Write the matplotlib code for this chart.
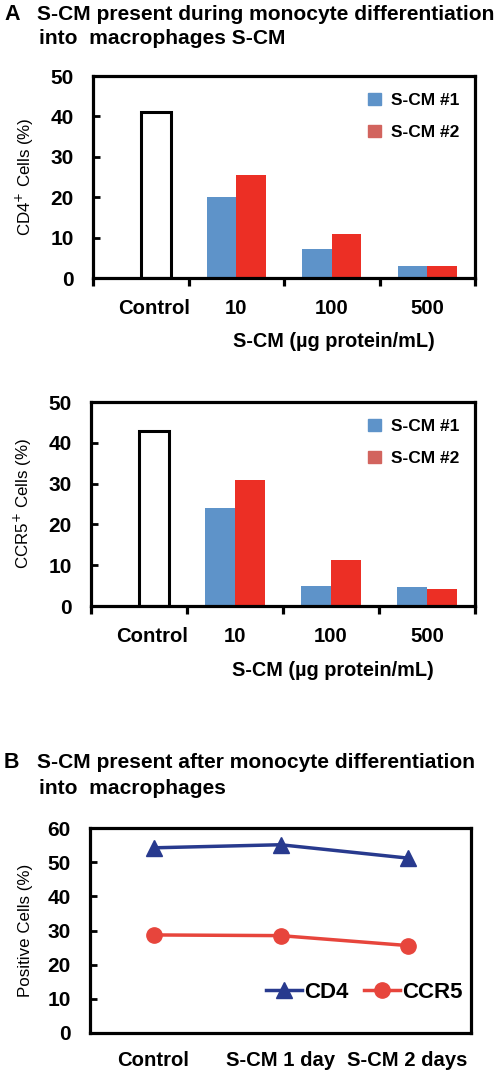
import matplotlib.pyplot as plt
from matplotlib.patches import Patch

plt.rcParams['font.family'] = ['Liberation Sans', 'DejaVu Sans']

# ---- data ----
doses = ['Control', '10', '100', '500']
cd4_control = 41
cd4_scm1 = [20, 7.3, 3.0]
cd4_scm2 = [25.5, 11, 3.0]

ccr5_control = 43
ccr5_scm1 = [24, 5, 4.7]
ccr5_scm2 = [31, 11.3, 4.2]

times = ['Control', 'S-CM 1 day', 'S-CM 2 days']
cd4_after = [54.2, 55.1, 51.2]
ccr5_after = [28.7, 28.5, 25.6]

BLUE = '#5E93C9'
RED = '#EC2F25'
RED_LEG = '#D2645E'
NAVY = '#283A8E'
RED_LINE = '#E7453C'

W, H = 498, 1071
fig = plt.figure(figsize=(W / 100, H / 100), dpi=100)


def px_axes(l, t, r, b):
    return fig.add_axes([l / W, 1 - b / H, (r - l) / W, (b - t) / H])


def style_axes(ax):
    for s in ax.spines.values():
        s.set_linewidth(2.3)
    ax.tick_params(axis='y', direction='in', length=5, width=2, labelsize=15, pad=14)
    for lab in ax.get_yticklabels():
        lab.set_fontweight('bold')


def bar_panel(ax, control, s1, s2, ylabel):
    w = 0.31
    ax.bar(0.16, control, w, color='white', edgecolor='black', linewidth=2.2)
    xs = range(1, len(doses))
    ax.bar([x - 0.155 for x in xs], s1, w, color=BLUE)
    ax.bar([x + 0.155 for x in xs], s2, w, color=RED)
    ax.set_xlim(-0.5, 3.5)
    ax.set_ylim(0, 50)
    ax.set_yticks(range(0, 51, 10))
    ax.set_xticks([-0.5, 0.5, 1.5, 2.5, 3.5])
    ax.set_xticklabels([])
    ax.set_xticks([0.14, 1, 2, 3], minor=True)
    ax.set_xticklabels(doses, minor=True, fontsize=14.6, fontweight='bold')
    ax.tick_params(axis='x', which='major', direction='out', length=6, width=2.3)
    ax.tick_params(axis='x', which='minor', length=0, pad=15)
    style_axes(ax)
    ax.set_ylabel(ylabel, fontsize=12.2, labelpad=10)
    handles = [Patch(color=BLUE, label='S-CM #1'), Patch(color=RED_LEG, label='S-CM #2')]
    ax.legend(handles=handles, loc='upper right', frameon=False,
              prop={'weight': 'bold', 'size': 12.5}, handlelength=0.7, handleheight=0.7,
              labelspacing=1.0, handletextpad=0.6, bbox_to_anchor=(1.0, 0.995))
    ax.text(0.63, -0.315, 'S-CM (µg protein/mL)', transform=ax.transAxes,
            ha='center', va='center', fontsize=14.3, fontweight='bold')


# ---- panel A titles ----
fig.text(4 / W, 1 - 15 / H, 'A', fontsize=15.5, fontweight='bold', va='center')
fig.text(37 / W, 1 - 15 / H, 'S-CM present during monocyte differentiation',
         fontsize=15.1, fontweight='bold', va='center')
fig.text(39 / W, 1 - 39 / H, 'into  macrophages S-CM',
         fontsize=15.1, fontweight='bold', va='center')

ax1 = px_axes(93, 76, 475, 278)
bar_panel(ax1, cd4_control, cd4_scm1, cd4_scm2, 'CD4$^{+}$ Cells (%)')

ax2 = px_axes(91, 402, 475, 606)
bar_panel(ax2, ccr5_control, ccr5_scm1, ccr5_scm2, 'CCR5$^{+}$ Cells (%)')

# ---- panel B ----
fig.text(4 / W, 1 - 763 / H, 'B', fontsize=15.5, fontweight='bold', va='center')
fig.text(37 / W, 1 - 763 / H, 'S-CM present after monocyte differentiation',
         fontsize=15.1, fontweight='bold', va='center')
fig.text(39 / W, 1 - 788 / H, 'into  macrophages',
         fontsize=15.1, fontweight='bold', va='center')

ax3 = px_axes(90, 828, 471, 1033)
xb = range(len(times))
ax3.plot(xb, cd4_after, color=NAVY, lw=2.5, marker='^', markersize=11, label='CD4')
ax3.plot(xb, ccr5_after, color=RED_LINE, lw=2.5, marker='o', markersize=11, label='CCR5')
ax3.set_xlim(-0.5, 2.5)
ax3.set_ylim(0, 60)
ax3.set_yticks(range(0, 61, 10))
ax3.set_xticks(list(xb))
ax3.set_xticklabels(times, fontsize=14.6, fontweight='bold')
ax3.tick_params(axis='x', length=0, pad=13)
style_axes(ax3)
ax3.set_ylabel('Positive Cells (%)', fontsize=12.2, labelpad=10)
ax3.legend(loc='center right', ncol=2, frameon=False, bbox_to_anchor=(1.03, 0.2),
           prop={'weight': 'bold', 'size': 16}, handlelength=1.6, handletextpad=0.1,
           columnspacing=0.7)

fig.savefig('out.png', dpi=100)
